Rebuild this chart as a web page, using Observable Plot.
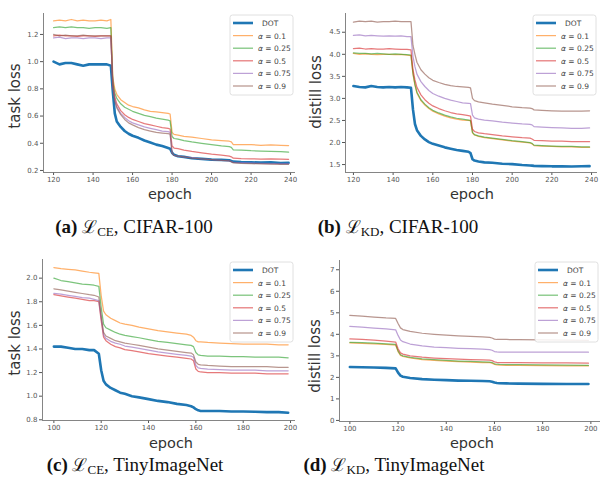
<!DOCTYPE html>
<html><head><meta charset="utf-8">
<script src="https://cdn.jsdelivr.net/npm/d3@7"></script>
<script src="https://cdn.jsdelivr.net/npm/@observablehq/plot@0.6"></script>
<style>
body{margin:0;background:#fff;}
#fig{position:relative;width:600px;height:493px;background:#fff;overflow:hidden;}
.panel{position:absolute;}
#overlay{position:absolute;left:0;top:0;}
</style>
</head><body>
<div id="fig"></div>
<script>
// ---------- data ----------
const seriesNames = ["DOT", "0.1", "0.25", "0.5", "0.75", "0.9"];
const seriesColors = ["#1f77b4", "#ff7f0e", "#2ca02c", "#d62728", "#9467bd", "#8c564b"];

// (a) task loss, CIFAR-100
const epochsA = [120,123,126,129,132,135,138,141,144,147,149,150,151,152,154,156,158,160,163,166,169,172,175,178,179,180,181,183,186,190,195,200,205,209,210,211,215,220,225,230,235,239];
const dotA  = [1.00,0.98,0.99,0.99,0.98,0.97,0.98,0.98,0.98,0.98,0.97,0.78,0.62,0.56,0.52,0.49,0.47,0.455,0.44,0.42,0.405,0.39,0.38,0.365,0.36,0.33,0.315,0.305,0.30,0.29,0.285,0.28,0.278,0.275,0.27,0.265,0.262,0.26,0.258,0.26,0.255,0.256];
const a01A  = [1.30,1.305,1.30,1.31,1.30,1.305,1.30,1.30,1.305,1.30,1.31,0.88,0.80,0.76,0.72,0.70,0.68,0.67,0.66,0.645,0.635,0.63,0.625,0.62,0.615,0.48,0.465,0.46,0.45,0.445,0.435,0.425,0.42,0.415,0.41,0.39,0.39,0.39,0.385,0.388,0.385,0.383];
const a025A = [1.25,1.255,1.25,1.255,1.25,1.25,1.245,1.25,1.25,1.245,1.25,0.85,0.77,0.73,0.69,0.665,0.65,0.635,0.62,0.605,0.595,0.585,0.578,0.57,0.565,0.45,0.435,0.43,0.42,0.41,0.40,0.39,0.38,0.375,0.37,0.352,0.35,0.345,0.343,0.34,0.338,0.335];
const a05A  = [1.19,1.195,1.19,1.19,1.185,1.19,1.19,1.185,1.19,1.19,1.19,0.83,0.74,0.69,0.64,0.61,0.59,0.575,0.56,0.545,0.535,0.525,0.515,0.51,0.505,0.38,0.365,0.36,0.35,0.34,0.33,0.32,0.312,0.305,0.30,0.29,0.287,0.285,0.284,0.285,0.283,0.282];
const a075A = [1.175,1.18,1.17,1.175,1.175,1.17,1.175,1.175,1.17,1.175,1.175,0.82,0.72,0.67,0.62,0.59,0.565,0.55,0.535,0.52,0.51,0.50,0.49,0.485,0.48,0.33,0.31,0.305,0.30,0.295,0.285,0.28,0.275,0.27,0.265,0.26,0.258,0.255,0.253,0.25,0.25,0.25];
const a09A  = [1.20,1.19,1.195,1.19,1.19,1.195,1.19,1.19,1.19,1.19,1.19,0.82,0.71,0.66,0.61,0.575,0.55,0.535,0.515,0.50,0.49,0.48,0.475,0.47,0.468,0.33,0.31,0.305,0.30,0.29,0.285,0.28,0.275,0.27,0.265,0.255,0.252,0.25,0.248,0.246,0.245,0.245];

// (b) distill loss, CIFAR-100
const epochsB = epochsA;
const dotB  = [3.28,3.26,3.25,3.28,3.26,3.25,3.26,3.25,3.26,3.25,3.24,2.75,2.42,2.28,2.15,2.07,2.01,1.97,1.93,1.89,1.86,1.83,1.81,1.79,1.76,1.62,1.59,1.57,1.55,1.54,1.52,1.51,1.49,1.48,1.475,1.47,1.465,1.46,1.46,1.455,1.46,1.465];
const a01B  = [4.02,4.00,4.01,4.00,3.99,4.00,4.00,3.99,4.00,3.98,3.97,3.55,3.30,3.12,2.95,2.85,2.77,2.71,2.65,2.60,2.56,2.53,2.51,2.50,2.49,2.22,2.17,2.14,2.11,2.09,2.06,2.03,2.01,1.99,1.97,1.93,1.92,1.91,1.90,1.90,1.89,1.89];
const a025B = [4.03,4.02,4.02,4.01,4.02,4.01,4.00,4.01,4.00,3.99,3.98,3.57,3.32,3.14,2.97,2.87,2.79,2.73,2.67,2.62,2.58,2.55,2.53,2.51,2.50,2.23,2.18,2.15,2.12,2.10,2.07,2.04,2.02,2.00,1.98,1.94,1.93,1.92,1.91,1.91,1.90,1.90];
const a05B  = [4.13,4.14,4.12,4.13,4.12,4.12,4.13,4.12,4.11,4.11,4.10,3.65,3.42,3.25,3.08,2.97,2.89,2.83,2.77,2.72,2.68,2.65,2.63,2.61,2.60,2.30,2.25,2.22,2.20,2.18,2.15,2.13,2.11,2.10,2.08,2.05,2.04,2.03,2.03,2.02,2.02,2.02];
const a075B = [4.43,4.44,4.42,4.43,4.42,4.41,4.42,4.41,4.42,4.40,4.40,3.95,3.72,3.55,3.38,3.27,3.18,3.11,3.05,3.00,2.96,2.93,2.90,2.89,2.88,2.62,2.56,2.53,2.51,2.49,2.46,2.44,2.42,2.41,2.40,2.36,2.35,2.34,2.33,2.32,2.32,2.33];
const a09B  = [4.73,4.75,4.74,4.75,4.73,4.74,4.74,4.75,4.74,4.74,4.74,4.20,4.00,3.82,3.65,3.55,3.47,3.41,3.36,3.32,3.29,3.27,3.26,3.25,3.24,3.00,2.95,2.92,2.90,2.87,2.84,2.81,2.79,2.78,2.77,2.74,2.73,2.72,2.71,2.71,2.71,2.72];

// (c) task loss, TinyImageNet
const epochsC = [100,103,106,109,112,115,117,119,120,121,122,124,126,128,130,133,136,140,144,148,152,156,158,159,160,161,162,165,170,175,180,185,190,195,199];
const dotC  = [1.42,1.42,1.41,1.40,1.40,1.39,1.39,1.36,1.22,1.13,1.10,1.07,1.05,1.03,1.02,1.00,0.99,0.975,0.96,0.95,0.935,0.925,0.915,0.905,0.89,0.88,0.875,0.875,0.875,0.87,0.87,0.868,0.865,0.865,0.86];
const a01C  = [2.09,2.08,2.075,2.07,2.06,2.05,2.045,2.04,1.85,1.72,1.69,1.66,1.64,1.62,1.61,1.60,1.585,1.57,1.555,1.545,1.535,1.525,1.515,1.50,1.47,1.46,1.46,1.455,1.45,1.445,1.44,1.44,1.44,1.435,1.435];
const a025C = [2.00,1.98,1.97,1.96,1.95,1.945,1.94,1.93,1.75,1.61,1.58,1.56,1.54,1.525,1.515,1.505,1.495,1.48,1.465,1.455,1.445,1.435,1.43,1.42,1.37,1.35,1.345,1.34,1.34,1.335,1.335,1.33,1.33,1.33,1.325];
const a05C  = [1.86,1.85,1.84,1.83,1.82,1.81,1.81,1.80,1.64,1.50,1.47,1.44,1.42,1.41,1.395,1.385,1.375,1.36,1.35,1.34,1.33,1.32,1.315,1.30,1.23,1.21,1.205,1.20,1.20,1.195,1.195,1.195,1.19,1.19,1.19];
const a075C = [1.87,1.865,1.855,1.845,1.835,1.83,1.82,1.81,1.66,1.52,1.49,1.465,1.45,1.44,1.425,1.415,1.405,1.39,1.375,1.365,1.355,1.345,1.34,1.33,1.26,1.24,1.235,1.23,1.225,1.22,1.22,1.22,1.215,1.215,1.215];
const a09C  = [1.91,1.90,1.89,1.88,1.87,1.86,1.855,1.84,1.68,1.54,1.51,1.49,1.47,1.46,1.45,1.44,1.43,1.415,1.40,1.39,1.38,1.37,1.365,1.35,1.29,1.27,1.265,1.26,1.255,1.25,1.25,1.25,1.25,1.245,1.245];

// (d) distill loss, TinyImageNet
const epochsD = [100,105,110,115,119,120,121,122,125,130,135,140,145,150,155,158,159,160,161,162,165,170,180,190,199];
const dotD  = [2.48,2.47,2.46,2.44,2.42,2.22,2.08,2.03,1.97,1.92,1.89,1.87,1.85,1.84,1.83,1.82,1.80,1.76,1.74,1.73,1.72,1.71,1.70,1.69,1.69];
const a01D  = [3.60,3.58,3.56,3.53,3.50,3.20,3.02,2.97,2.90,2.83,2.79,2.76,2.73,2.71,2.69,2.68,2.66,2.60,2.58,2.57,2.56,2.56,2.55,2.54,2.53];
const a025D = [3.63,3.61,3.59,3.56,3.53,3.23,3.05,3.00,2.93,2.86,2.82,2.79,2.76,2.74,2.72,2.71,2.69,2.63,2.61,2.60,2.59,2.59,2.58,2.57,2.56];
const a05D  = [3.79,3.76,3.73,3.68,3.64,3.33,3.14,3.08,3.00,2.94,2.90,2.87,2.85,2.83,2.81,2.80,2.78,2.72,2.70,2.69,2.68,2.68,2.67,2.67,2.66];
const a075D = [4.37,4.33,4.29,4.25,4.21,3.95,3.74,3.66,3.55,3.46,3.41,3.38,3.35,3.33,3.31,3.29,3.26,3.20,3.18,3.17,3.17,3.17,3.17,3.17,3.17];
const a09D  = [4.88,4.84,4.80,4.76,4.74,4.50,4.30,4.22,4.14,4.05,4.00,3.96,3.93,3.90,3.88,3.86,3.83,3.78,3.76,3.76,3.76,3.75,3.74,3.73,3.72];

// ticks
const xTicksCifar = [120,140,160,180,200,220,240];
const xTicksTiny  = [100,120,140,160,180,200];
const yTicksA = [0.2,0.4,0.6,0.8,1.0,1.2];
const yTicksB = [1.5,2.0,2.5,3.0,3.5,4.0,4.5];
const yTicksC = [0.8,1.0,1.2,1.4,1.6,1.8,2.0];
const yTicksD = [0,1,2,3,4,5,6,7];

// text
const yLabels = ["task loss", "distill loss", "task loss", "distill loss"];
const xLabel = "epoch";
const capLetters = ["(a)", "(b)", "(c)", "(d)"];
const capLoss = ["CE", "KD", "CE", "KD"];
const capData = ["CIFAR-100", "CIFAR-100", "TinyImageNet", "TinyImageNet"];

// ---------- drawing ----------
const fig = document.getElementById("fig");

function rows(epochs, lists) {
  const out = [];
  lists.forEach((vals, i) => vals.forEach((v, j) => out.push({epoch: epochs[j], value: v, series: seriesNames[i]})));
  return out;
}

const panels = [
  {left:0, top:0, ml:43, mr:5, mt:13, mb:28, h:200, xd:[114.9,242.5], yd:[0.185,1.354], xt:xTicksCifar, yt:yTicksA, yf:d3.format(".1f"),
   data: rows(epochsA,[dotA,a01A,a025A,a05A,a075A,a09A])},
  {left:300, top:0, ml:45, mr:3, mt:13, mb:28, h:200, xd:[116,243], yd:[1.32,4.925], xt:xTicksCifar, yt:yTicksB, yf:d3.format(".1f"),
   data: rows(epochsB,[dotB,a01B,a025B,a05B,a075B,a09B])},
  {left:0, top:240, ml:42, mr:5, mt:19, mb:20, h:200, xd:[95.2,202.1], yd:[0.794,2.158], xt:xTicksTiny, yt:yTicksC, yf:d3.format(".1f"),
   data: rows(epochsC,[dotC,a01C,a025C,a05C,a075C,a09C])},
  {left:300, top:240, ml:39, mr:0, mt:20, mb:19, h:200, xd:[95.7,204], yd:[-0.05,7.43], xt:xTicksTiny, yt:yTicksD, yf:d3.format("d"),
   data: rows(epochsD,[dotD,a01D,a025D,a05D,a075D,a09D])}
];

panels.forEach(p => {
  const dot = p.data.filter(d => d.series === "DOT");
  const others = p.data.filter(d => d.series !== "DOT");
  const chart = Plot.plot({
    width: 300, height: p.h,
    marginLeft: p.ml, marginRight: p.mr, marginTop: p.mt, marginBottom: p.mb,
    style: {fontFamily: "DejaVu Sans, sans-serif", fontSize: "7px", color: "#555", background: "transparent", overflow: "visible"},
    x: {domain: p.xd},
    y: {domain: p.yd},
    color: {domain: seriesNames, range: seriesColors},
    marks: [
      Plot.axisX({ticks: p.xt, tickSize: 3, tickPadding: 1.5, tickFormat: d => String(d), label: null, fontSize: 7, color: "#555"}),
      Plot.axisY({ticks: p.yt, tickSize: 3, tickPadding: 2, tickFormat: p.yf, label: null, fontSize: 7, color: "#555"}),
      Plot.ruleX([p.xd[0]], {stroke: "#777", strokeWidth: 0.9}),
      Plot.ruleY([p.yd[0]], {stroke: "#777", strokeWidth: 0.9}),
      Plot.line(dot, {x: "epoch", y: "value", stroke: "series", strokeWidth: 2.6}),
      Plot.line(others, {x: "epoch", y: "value", stroke: "series", z: "series", strokeWidth: 1.25, strokeOpacity: 0.62})
    ]
  });
  chart.classList.add("panel");
  chart.style.left = p.left + "px";
  chart.style.top = p.top + "px";
  chart.style.position = "absolute";
  fig.appendChild(chart);
});

// overlay: axis titles, legends, captions
const svg = d3.select(fig).append("svg").attr("id","overlay").attr("width",600).attr("height",493);

const yLabPos = [[15,96],[316,92],[15,343],[315,356]];
const xLabPos = [[170,194],[472,194],[171,443],[472,443]];
yLabPos.forEach((pos,i) => {
  svg.append("text").attr("transform",`translate(${pos[0]},${pos[1]}) rotate(-90)`)
    .attr("text-anchor","middle").attr("dominant-baseline","central")
    .attr("font-family","DejaVu Sans, sans-serif").attr("font-size",15).attr("fill","#333").text(yLabels[i]);
});
xLabPos.forEach(pos => {
  svg.append("text").attr("x",pos[0]).attr("y",pos[1])
    .attr("text-anchor","middle").attr("dominant-baseline","central")
    .attr("font-family","DejaVu Sans, sans-serif").attr("font-size",14.5).attr("fill","#333").text(xLabel);
});

const legPos = [[230,15],[533,15],[230,262],[535,262]];
legPos.forEach(pos => {
  const g = svg.append("g").attr("transform",`translate(${pos[0]},${pos[1]})`);
  g.append("rect").attr("width",63).attr("height",80).attr("rx",2.5)
    .attr("fill","white").attr("fill-opacity",0.85).attr("stroke","#d8d8d8").attr("stroke-width",0.8);
  seriesNames.forEach((name,i) => {
    const y = 8 + i*12.6;
    g.append("line").attr("x1",3).attr("x2",23).attr("y1",y).attr("y2",y)
      .attr("stroke",seriesColors[i]).attr("stroke-width", i===0 ? 2.6 : 1.25).attr("stroke-opacity", i===0 ? 1 : 0.62);
    const t = g.append("text").attr("x", i===0 ? 32 : 28).attr("y",y).attr("dominant-baseline","central")
      .attr("font-family","DejaVu Sans, sans-serif").attr("font-size",7.5).attr("fill","#444");
    if (i===0) t.text(name);
    else { t.append("tspan").attr("font-style","italic").text("α"); t.append("tspan").text(" = " + name); }
  });
});

const capPos = [[134,233],[398,233],[135,471],[394,471]];
capPos.forEach((pos,i) => {
  const t = svg.append("text").attr("x",pos[0]).attr("y",pos[1]).attr("text-anchor","middle")
    .attr("font-family","Liberation Serif, serif").attr("font-size",19).attr("fill","#111");
  t.append("tspan").attr("font-weight","bold").text(capLetters[i] + " ");
  t.append("tspan").attr("font-family","DejaVu Serif, serif").attr("font-size",18).text("ℒ");
  t.append("tspan").attr("font-size",13).attr("dy",3).text(capLoss[i]);
  t.append("tspan").attr("dy",-3).text(", " + capData[i]);
});
</script>
</body></html>
